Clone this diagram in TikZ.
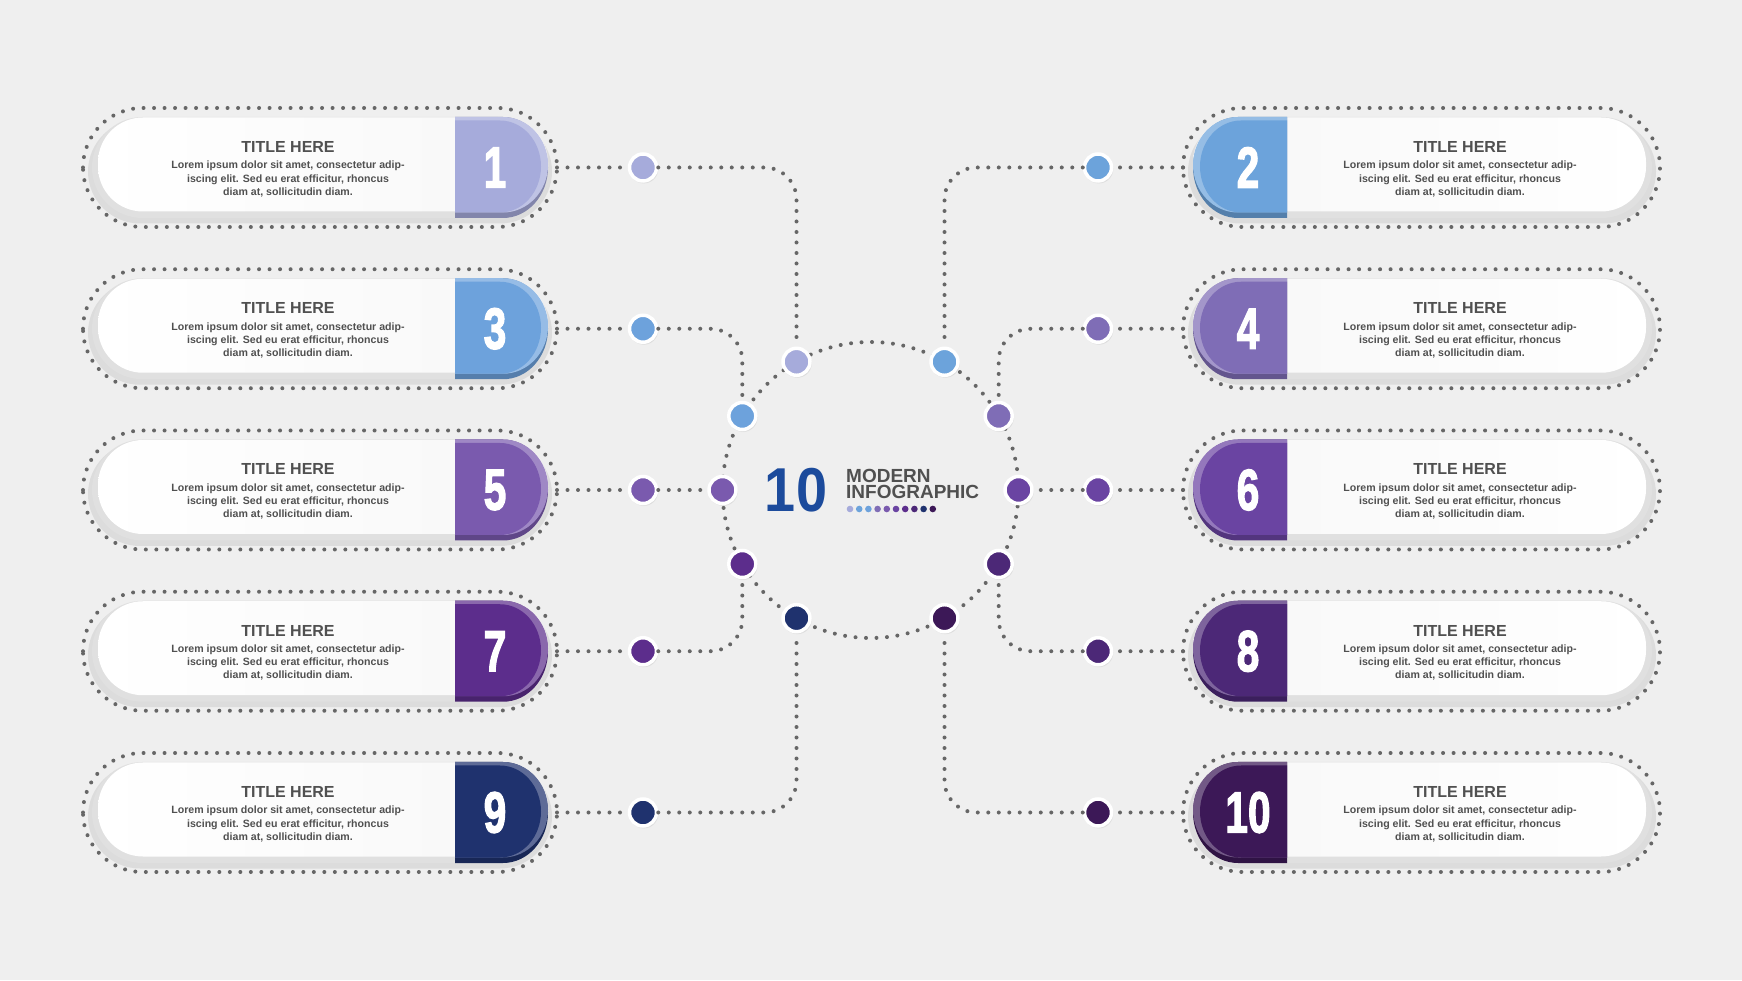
\documentclass[tikz,border=0pt]{standalone}
\usepackage{fontspec}
\setmainfont{Liberation Sans}
\newfontfamily\numfont[FakeBold=2.5]{Liberation Sans Bold}
\usetikzlibrary{shadows}
\definecolor{bg}{HTML}{EFEFEF}
\definecolor{dotgray}{HTML}{666666}
\definecolor{rim}{HTML}{E0E0E0}
\definecolor{txtgray}{HTML}{505050}
\definecolor{navy}{HTML}{1C4B9C}
\definecolor{c1}{HTML}{A6ABDB}
\definecolor{c2}{HTML}{6CA3DB}
\definecolor{c3}{HTML}{6DA2DC}
\definecolor{c4}{HTML}{7F6DB6}
\definecolor{c5}{HTML}{7A5AAE}
\definecolor{c6}{HTML}{6A44A2}
\definecolor{c7}{HTML}{5C2D8C}
\definecolor{c8}{HTML}{4C2877}
\definecolor{c9}{HTML}{1F326E}
\definecolor{c10}{HTML}{3C1857}
\tikzset{
  dotline/.style={draw=dotgray, line width=4pt, line cap=round, dash pattern=on 0pt off 10.5pt},
  ringdot/.style={circle, minimum size=27pt, inner sep=0pt, draw=white, line width=3.5pt,
    circular drop shadow={shadow xshift=0.6pt, shadow yshift=-1.2pt, opacity=0.25}},
  numtxt/.style={text=white, font=\numfont\fontsize{58}{58}\selectfont, inner sep=0pt},
  titletxt/.style={text=txtgray, font=\bfseries\fontsize{16}{16}\selectfont, inner sep=0pt},
  bodytxt/.style={text=txtgray, font=\bfseries\fontsize{10.6}{13.2}\selectfont, align=center, inner sep=0pt},
}
\newcommand\bodytext{Lorem ipsum dolor sit amet, consectetur adip-\\iscing elit. Sed eu erat efficitur, rhoncus\\diam at, sollicitudin diam.}
\newcommand\leftcard[3]{%
  \draw[dotline, rounded corners=59.5pt] (83,{#1-59.5}) rectangle (557,{#1+59.5});
  \fill[black, opacity=0.08, rounded corners=52pt] (88,{#1-56}) rectangle (552,{#1+48});
  \fill[rim, rounded corners=50.5pt] (92,{#1-50.5}) rectangle (548,{#1+50.5});
  \shade[left color=white, right color=gray!6, rounded corners=45pt] (98,{#1-44}) rectangle (548,{#1+50});
  \fill[#2!78!black] (455,{#1-50.5}) -- (503,{#1-50.5}) arc[start angle=-90,end angle=90,x radius=45pt,y radius=50.5pt] -- (455,{#1+50.5}) -- cycle;
  \fill[#2!72!white] (455,{#1-45}) -- (503,{#1-45}) arc[start angle=-90,end angle=90,x radius=45pt,y radius=47.75pt] -- (455,{#1+50.5}) -- cycle;
  \fill[#2] (455,{#1-45}) -- (500,{#1-45}) arc[start angle=-90,end angle=90,x radius=41pt,y radius=46pt] -- (455,{#1+47}) -- cycle;
  \node[numtxt] (n#3) at (495,#1) {\scalebox{0.7}[1]{#3}};
  \node[titletxt] (t#3) at (288,{#1+20.5}) {TITLE HERE};
  \node[bodytxt] (b#3) at (288,{#1-11.5}) {\bodytext};
  \coordinate (e#3) at (557,#1);
}
\newcommand\rightcard[3]{%
  \draw[dotline, rounded corners=59.5pt] (1183,{#1-59.5}) rectangle (1660,{#1+59.5});
  \fill[black, opacity=0.08, rounded corners=52pt] (1188,{#1-56}) rectangle (1656,{#1+48});
  \fill[rim, rounded corners=50.5pt] (1193,{#1-50.5}) rectangle (1652,{#1+50.5});
  \shade[left color=gray!6, right color=white, rounded corners=45pt] (1193,{#1-44}) rectangle (1646,{#1+50});
  \fill[#2!78!black] (1287,{#1-50.5}) -- (1238,{#1-50.5}) arc[start angle=-90,end angle=-270,x radius=45pt,y radius=50.5pt] -- (1287,{#1+50.5}) -- cycle;
  \fill[#2!72!white] (1287,{#1-45}) -- (1238,{#1-45}) arc[start angle=-90,end angle=-270,x radius=45pt,y radius=47.75pt] -- (1287,{#1+50.5}) -- cycle;
  \fill[#2] (1287,{#1-45}) -- (1241,{#1-45}) arc[start angle=-90,end angle=-270,x radius=41pt,y radius=46pt] -- (1287,{#1+47}) -- cycle;
  \node[numtxt] (n#3) at (1248,#1) {\scalebox{0.7}[1]{#3}};
  \node[titletxt] (t#3) at (1460,{#1+20.5}) {TITLE HERE};
  \node[bodytxt] (b#3) at (1460,{#1-11.5}) {\bodytext};
  \coordinate (e#3) at (1183,#1);
}
\begin{document}
\begin{tikzpicture}[x=1pt,y=1pt]
\useasboundingbox (0,0) rectangle (1742,980);
\fill[bg] (0,0) rectangle (1742,980);

% ring
\draw[dotline] (870.5,490) circle[radius=148pt];

% cards
\leftcard{812.5}{c1}{1}
\leftcard{651.25}{c3}{3}
\leftcard{490}{c5}{5}
\leftcard{328.75}{c7}{7}
\leftcard{167.5}{c9}{9}
\rightcard{812.5}{c2}{2}
\rightcard{651.25}{c4}{4}
\rightcard{490}{c6}{6}
\rightcard{328.75}{c8}{8}
\rightcard{167.5}{c10}{10}

% ring nodes
\node[ringdot, fill=c1]  (r1)  at (796.5,618.2) {};
\node[ringdot, fill=c2]  (r2)  at (944.5,618.2) {};
\node[ringdot, fill=c3]  (r3)  at (742.3,564) {};
\node[ringdot, fill=c4]  (r4)  at (998.7,564) {};
\node[ringdot, fill=c5]  (r5)  at (722.5,490) {};
\node[ringdot, fill=c6]  (r6)  at (1018.5,490) {};
\node[ringdot, fill=c7]  (r7)  at (742.3,416) {};
\node[ringdot, fill=c8]  (r8)  at (998.7,416) {};
\node[ringdot, fill=c9]  (r9)  at (796.5,361.8) {};
\node[ringdot, fill=c10] (r10) at (944.5,361.8) {};

% connector dots
\node[ringdot, fill=c1]  (d1)  at (643,812.5) {};
\node[ringdot, fill=c3]  (d3)  at (643,651.25) {};
\node[ringdot, fill=c5]  (d5)  at (643,490) {};
\node[ringdot, fill=c7]  (d7)  at (643,328.75) {};
\node[ringdot, fill=c9]  (d9)  at (643,167.5) {};
\node[ringdot, fill=c2]  (d2)  at (1098,812.5) {};
\node[ringdot, fill=c4]  (d4)  at (1098,651.25) {};
\node[ringdot, fill=c6]  (d6)  at (1098,490) {};
\node[ringdot, fill=c8]  (d8)  at (1098,328.75) {};
\node[ringdot, fill=c10] (d10) at (1098,167.5) {};

% connectors
\foreach \i in {1,...,10} {\draw[dotline] (e\i) -- (d\i);}
\foreach \i in {1,2,3,4,7,8,9,10} {\draw[dotline, rounded corners=32pt] (d\i) -| (r\i);}
\draw[dotline] (d5) -- (r5);
\draw[dotline] (d6) -- (r6);

% center title
\node[text=navy, font=\bfseries\fontsize{62}{62}\selectfont, inner sep=0pt] (ten) at (796,490) {\scalebox{0.9}[1]{10}};
\node[text=txtgray, font=\bfseries\fontsize{19}{19}\selectfont, anchor=base west, inner sep=0pt] (mod) at (846,497) {MODERN};
\node[text=txtgray, font=\bfseries\fontsize{19}{19}\selectfont, anchor=base west, inner sep=0pt] (inf) at (846,481) {INFOGRAPHIC};
\foreach \i in {1,...,10} {\fill[c\i] ({850+(\i-1)*9.2},471) circle[radius=3.3pt];}
\end{tikzpicture}
\end{document}
